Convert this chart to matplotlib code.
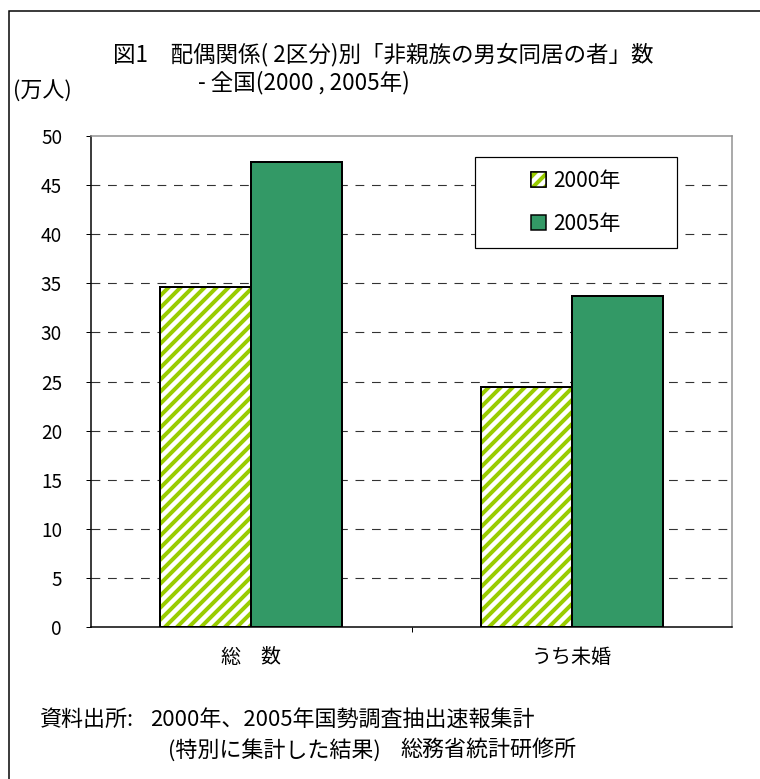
import matplotlib
matplotlib.use('Agg')
import matplotlib.pyplot as plt
from matplotlib.patches import Patch, Rectangle
import numpy as np

# Datos del grafico
categorias = ['総　数', 'うち未婚']
anios = ['2000年', '2005年']
valores2000 = [34.6, 24.4]
valores2005 = [47.4, 33.7]
ticksY = [0, 5, 10, 15, 20, 25, 30, 35, 40, 45, 50]

plt.rcParams['font.family'] = ['Noto Sans CJK JP', 'DejaVu Sans']
plt.rcParams['hatch.linewidth'] = 4.0

verde = '#339966'
amarillo = '#99CC00'

W, H = 760, 779
fig = plt.figure(figsize=(W / 72, H / 72), dpi=72)
fig.patch.set_facecolor('white')

# marco exterior (solo se ven borde izquierdo y superior)
fig.patches.append(Rectangle((9 / W, -0.05), 1.2, 1 - 11 / H + 0.05,
                             transform=fig.transFigure, fill=False,
                             edgecolor='black', linewidth=1.5))

ax = fig.add_axes([91 / W, 1 - 627 / H, (732 - 91) / W, (627 - 136) / H])

x = np.arange(len(categorias))
ancho = 0.284

# 2000: rayado verde amarillo
ax.bar(x - ancho / 2, valores2000, ancho, facecolor='white', edgecolor=amarillo,
       hatch='//', linewidth=0, zorder=3)
ax.bar(x - ancho / 2, valores2000, ancho, facecolor='none', edgecolor='black',
       linewidth=2, zorder=4)
# 2005: verde
ax.bar(x + ancho / 2, valores2005, ancho, facecolor=verde, edgecolor='black',
       linewidth=2, zorder=4)

ax.set_xlim(-0.5, 1.5)
ax.set_ylim(0, 50)
ax.set_yticks(ticksY)
ax.set_yticklabels([str(t) for t in ticksY], fontsize=19)
ax.tick_params(axis='y', length=5, width=1, pad=24, direction='out')

ax.set_xticks(x)
ax.set_xticklabels(categorias, fontsize=20)
ax.tick_params(axis='x', which='major', length=0, pad=20)
ax.set_xticks([0.5], minor=True)
ax.tick_params(axis='x', which='minor', length=5, width=1, direction='out')

for t in ticksY[1:-1]:
    ax.axhline(t, color='#333333', linewidth=1.1, dashes=(8, 7), zorder=1)

ax.spines['left'].set_linewidth(1.5)
ax.spines['bottom'].set_linewidth(1.5)
ax.spines['top'].set_color('#909090')
ax.spines['right'].set_color('#909090')
ax.spines['top'].set_linewidth(1.5)
ax.spines['right'].set_linewidth(1.5)

# leyenda con marco dibujado aparte
fig.patches.append(Rectangle((475 / W, 1 - 248 / H), (677 - 475) / W, (248 - 157) / H,
                             transform=fig.transFigure, facecolor='white',
                             edgecolor='black', linewidth=1.2, zorder=5))
manejadores = [Patch(facecolor='white', edgecolor='black', linewidth=1.5),
               Patch(facecolor=verde, edgecolor='black', linewidth=1.5)]
leg = fig.legend(manejadores, anios, loc='center',
                 bbox_to_anchor=((475 + 677) / 2 / W, 1 - (157 + 248) / 2 / H),
                 frameon=False, fontsize=21, handlelength=0.68, handleheight=0.68,
                 handletextpad=0.35, labelspacing=1.0)
leg.set_zorder(6)
# rayado del cuadrito 2000
fig.canvas.draw()
caja = leg.legend_handles[0].get_window_extent()
fig.patches.append(Rectangle((caja.x0 / W, caja.y0 / H), caja.width / W, caja.height / H,
                             transform=fig.transFigure, facecolor='white',
                             edgecolor=amarillo, hatch='//', linewidth=0, zorder=7))
fig.patches.append(Rectangle((caja.x0 / W, caja.y0 / H), caja.width / W, caja.height / H,
                             transform=fig.transFigure, facecolor='none',
                             edgecolor='black', linewidth=1.5, zorder=8))

# titulos y textos
fig.text(113 / W, 1 - 55 / H, '図1　配偶関係( 2区分)別「非親族の男女同居の者」数',
         fontsize=22.5, ha='left', va='center')
fig.text(198 / W, 1 - 83 / H, '- 全国(2000 , 2005年)',
         fontsize=22.5, ha='left', va='center')
fig.text(13 / W, 1 - 92 / H, '(万人)', fontsize=22, ha='left', va='center')

fig.text(40 / W, 1 - 720 / H, '資料出所:', fontsize=22, ha='left', va='center')
fig.text(150 / W, 1 - 720 / H, '2000年、2005年国勢調査抽出速報集計',
         fontsize=22, ha='left', va='center')
fig.text(168 / W, 1 - 750 / H, '(特別に集計した結果)',
         fontsize=22, ha='left', va='center')
fig.text(400 / W, 1 - 750 / H, '総務省統計研修所',
         fontsize=22, ha='left', va='center')

fig.savefig('out.png', dpi=72)
